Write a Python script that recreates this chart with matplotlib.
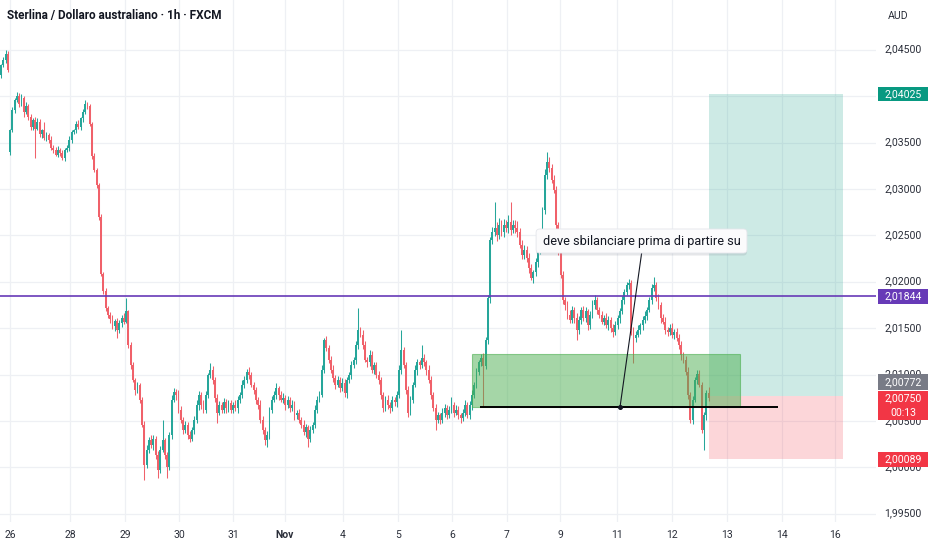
import matplotlib
matplotlib.use("Agg")
import matplotlib.pyplot as plt
import matplotlib.transforms as mtransforms
from matplotlib.patches import Rectangle, FancyBboxPatch

plt.rcParams['font.family'] = ['Roboto', 'DejaVu Sans']

# ---------------- data ----------------
symbol_title = "Sterlina / Dollaro australiano · 1h · FXCM"
currency = "AUD"

# hourly closes, in pips above 2.00000
close_pips = [
    433, 439, 445, 428, 363, 385, 396, 400, 392, 398, 383, 389, 377, 367, 374, 365, 372, 359, 363, 355, 358, 353, 344, 342,
    337, 342, 339, 333, 342, 344, 353, 361, 363, 370, 367, 376, 383, 392, 389, 370, 335, 320, 304, 270, 208, 190, 172, 164,
    160, 152, 158, 148, 155, 161, 157, 168, 132, 110, 94, 83, 89, 73, 46, 2, 19, 29, 24, 31, 13, -3, 19, 29,
    13, 0, 35, 73, 81, 78, 62, 51, 40, 46, 35, 31, 40, 51, 67, 78, 67, 62, 78, 99, 105, 94, 75, 59,
    67, 62, 70, 64, 69, 62, 67, 64, 73, 78, 89, 94, 103, 99, 89, 83, 73, 67, 51, 40, 29, 35, 62, 73,
    78, 85, 78, 73, 75, 67, 73, 64, 67, 56, 59, 51, 46, 38, 43, 31, 40, 46, 62, 73, 78, 105, 137, 129,
    116, 105, 96, 89, 94, 85, 91, 80, 94, 99, 110, 116, 132, 148, 143, 132, 116, 113, 121, 105, 110, 99, 94, 78,
    64, 73, 67, 64, 73, 70, 78, 105, 126, 110, 83, 59, 73, 89, 105, 113, 110, 118, 113, 105, 94, 78, 64, 51,
    56, 51, 59, 64, 56, 62, 67, 59, 62, 56, 53, 59, 67, 56, 67, 78, 89, 103, 113, 118, 109, 137, 182, 245,
    254, 258, 250, 261, 254, 261, 258, 264, 256, 261, 258, 254, 240, 229, 234, 226, 215, 204, 210, 221, 234, 245, 277, 315,
    329, 323, 310, 299, 261, 234, 207, 180, 175, 164, 159, 170, 161, 148, 159, 170, 161, 168, 153, 164, 175, 180, 170, 164,
    157, 161, 153, 159, 150, 146, 153, 161, 168, 180, 189, 196, 199, 148, 139, 143, 148, 153, 159, 163, 170, 180, 193, 196,
    182, 175, 161, 157, 148, 146, 150, 143, 146, 139, 132, 121, 116, 103, 78, 51, 73, 94, 101, 89, 40, 56, 80, 75,
]
upper_wick_pips = [
    2, 3, 5, 4, 2, 3, 2, 4, 3, 4, 2, 5, 3, 4, 2, 3, 4, 3, 2, 9, 3, 2, 4, 3,
    3, 4, 2, 3, 2, 3, 4, 3, 2, 3, 4, 2, 3, 4, 2, 3, 2, 4, 3, 2, 3, 2, 3, 2,
    3, 4, 2, 3, 4, 3, 5, 14, 2, 3, 4, 2, 3, 2, 3, 4, 5, 4, 6, 4, 3, 5, 4, 22,
    3, 4, 3, 5, 4, 3, 5, 4, 3, 4, 3, 4, 3, 4, 5, 4, 3, 6, 4, 3, 7, 4, 3, 4,
    4, 3, 5, 4, 3, 4, 3, 5, 4, 3, 5, 4, 3, 5, 4, 3, 4, 3, 5, 4, 3, 4, 3, 4,
    4, 6, 3, 4, 5, 3, 4, 3, 5, 4, 3, 4, 3, 5, 4, 3, 4, 3, 5, 4, 4, 5, 2, 4,
    3, 4, 5, 3, 4, 3, 5, 4, 3, 4, 5, 3, 4, 24, 3, 5, 4, 3, 5, 4, 3, 4, 5, 3,
    3, 4, 5, 3, 4, 3, 4, 5, 22, 4, 3, 5, 4, 3, 5, 4, 3, 14, 4, 3, 5, 4, 3, 4,
    4, 3, 5, 4, 3, 4, 9, 3, 5, 4, 3, 4, 5, 3, 4, 5, 3, 4, 3, 4, 5, 3, 4, 3,
    5, 28, 6, 8, 5, 7, 6, 8, 22, 6, 5, 7, 4, 5, 6, 4, 5, 4, 3, 5, 4, 5, 4, 6,
    11, 5, 4, 5, 4, 3, 4, 5, 3, 4, 5, 4, 3, 5, 4, 3, 4, 5, 3, 4, 5, 6, 4, 3,
    4, 3, 5, 4, 3, 4, 5, 3, 4, 5, 3, 4, 4, 3, 3, 4, 5, 3, 4, 5, 3, 4, 5, 9,
    4, 5, 3, 4, 5, 3, 4, 5, 3, 4, 5, 4, 3, 4, 5, 3, 4, 3, 4, 4, 3, 4, 3, 6,
]
lower_wick_pips = [
    3, 2, 3, 2, 3, 2, 3, 2, 4, 3, 5, 2, 3, 4, 3, 32, 2, 3, 4, 2, 3, 4, 2, 3,
    2, 3, 4, 2, 3, 2, 3, 4, 2, 3, 2, 3, 4, 2, 3, 2, 3, 2, 3, 4, 2, 3, 4, 3,
    4, 3, 5, 9, 3, 4, 3, 2, 3, 4, 2, 5, 3, 4, 3, 16, 3, 4, 3, 5, 4, 9, 3, 2,
    4, 12, 3, 4, 3, 5, 4, 3, 4, 3, 5, 4, 3, 4, 3, 5, 4, 3, 4, 3, 3, 4, 5, 11,
    3, 4, 3, 5, 4, 3, 4, 3, 5, 4, 3, 4, 3, 4, 3, 4, 5, 4, 3, 4, 5, 7, 4, 3,
    3, 4, 5, 3, 4, 5, 3, 4, 3, 5, 4, 3, 4, 3, 5, 9, 4, 3, 4, 3, 3, 2, 3, 4,
    4, 3, 4, 5, 3, 4, 3, 4, 5, 3, 4, 3, 5, 4, 3, 4, 3, 5, 4, 3, 4, 3, 4, 4,
    4, 3, 4, 5, 3, 4, 5, 3, 4, 3, 4, 5, 3, 4, 3, 5, 4, 3, 4, 5, 3, 4, 3, 11,
    3, 4, 3, 5, 4, 3, 4, 5, 3, 4, 5, 3, 4, 3, 4, 5, 3, 4, 3, 4, 44, 3, 4, 5,
    4, 5, 6, 4, 5, 6, 4, 5, 6, 4, 5, 6, 4, 5, 4, 5, 6, 2, 5, 4, 5, 4, 5, 4,
    4, 5, 4, 3, 4, 5, 3, 4, 5, 4, 3, 4, 5, 11, 4, 5, 3, 4, 5, 4, 3, 4, 5, 3,
    3, 4, 3, 5, 4, 6, 3, 4, 5, 3, 4, 3, 4, 5, 27, 4, 3, 4, 5, 3, 4, 3, 4, 3,
    3, 4, 5, 3, 4, 5, 3, 4, 5, 3, 4, 5, 4, 3, 4, 3, 4, 3, 4, 3, 3, 21, 5, 4,
]
first_open_pips = 423
gap_open_pips = {4: 340}

day_labels = ["26", "28", "29", "30", "31", "Nov", "4", "5", "6", "7", "9", "11", "12", "13", "14", "16"]
day_label_bars = [4.0, 30.3, 54.5, 78.2, 102.0, 124.8, 150.3, 174.5, 198.2, 222.4, 245.7, 270.8, 295.0, 319.1, 343.3, 366.6]

price_ticks = [1.995, 2.000, 2.005, 2.010, 2.015, 2.020, 2.025, 2.030, 2.035, 2.040, 2.045]
# 2,04000 is fully covered by the target tag in the reference
price_tick_labels_shown = [1.995, 2.000, 2.005, 2.010, 2.015, 2.020, 2.025, 2.030, 2.035, 2.045]

hline_price = 2.01844
entry_price = 2.00772
target_price = 2.04025
stop_price = 2.00089
last_price = 2.00750
countdown = "00:13"

zone_prices = (2.00650, 2.01221)
zone_bars = (206.9, 324.8)
level_line_price = 2.00650
level_line_bars = (210.5, 341.5)
note_text = "deve sbilanciare prima di partire su"
note_box_bars = (235.2, 327.9)
note_box_prices = (2.02309, 2.02568)
note_anchor = (272.1, 2.00650)
note_tail = (281.6, 2.02309)
position_bars = (311.2, 370.1)

# ---------------- layout / style ----------------
W, H = 932, 550
PLOT_RIGHT, PLOT_BOTTOM = 876, 522
PRICE_TOP, PRICE_BOTTOM = 2.050356, 1.994106
BAR_PX = 2.275
PPX = PLOT_BOTTOM / (PRICE_TOP - PRICE_BOTTOM)

GREEN = '#26a69a'
RED = '#f0616a'
GRID = '#eef0f4'
TEXT = '#131722'
AXTEXT = '#2a2e39'

fig = plt.figure(figsize=(W / 100, H / 100), dpi=100)
fig.patch.set_facecolor('white')
ax = fig.add_axes([0, 1 - PLOT_BOTTOM / H, PLOT_RIGHT / W, PLOT_BOTTOM / H])
ax.set_xlim(-1 / BAR_PX, (PLOT_RIGHT - 1) / BAR_PX)
ax.set_ylim(PRICE_BOTTOM, PRICE_TOP)
ax.axis('off')

# grid
for b in day_label_bars:
    ax.axvline(b, color=GRID, lw=0.9, zorder=0)
for p in price_ticks:
    ax.axhline(p, color=GRID, lw=0.9, zorder=0)

# candles
n = len(close_pips)
open_pips = [first_open_pips] + close_pips[:-1]
for k, v in gap_open_pips.items():
    open_pips[k] = v
O = [2.0 + v / 1e4 for v in open_pips]
C = [2.0 + v / 1e4 for v in close_pips]
HI = [max(o, c) + u / 1e4 for o, c, u in zip(O, C, upper_wick_pips)]
LO = [min(o, c) - l / 1e4 for o, c, l in zip(O, C, lower_wick_pips)]
cols = [GREEN if c >= o else RED for o, c in zip(O, C)]
xs = list(range(n))
ax.vlines(xs, LO, HI, colors=cols, linewidth=0.75, zorder=2)
ax.bar(xs, [max(abs(c - o), 0.00005) for o, c in zip(O, C)],
       bottom=[min(o, c) for o, c in zip(O, C)], width=0.82, color=cols,
       linewidth=0, zorder=2)

# position tool
ax.add_patch(Rectangle((position_bars[0], entry_price), position_bars[1] - position_bars[0],
                       target_price - entry_price, facecolor=(8/255, 153/255, 129/255, 0.2),
                       edgecolor='none', zorder=1))
ax.add_patch(Rectangle((position_bars[0], stop_price), position_bars[1] - position_bars[0],
                       entry_price - stop_price, facecolor=(242/255, 54/255, 69/255, 0.2),
                       edgecolor='none', zorder=1))

# green zone
ax.add_patch(Rectangle((zone_bars[0], zone_prices[0]), zone_bars[1] - zone_bars[0],
                       zone_prices[1] - zone_prices[0], facecolor=(76/255, 175/255, 80/255, 0.5),
                       edgecolor=(76/255, 175/255, 80/255, 0.6), linewidth=0.8, zorder=3))

# horizontal level (purple)
ax.axhline(hline_price, color='#673ab7', lw=1.2, zorder=4)

# black level line
ax.plot(level_line_bars, [level_line_price, level_line_price], color='black', lw=1.4, zorder=5,
        solid_capstyle='butt')

# callout
ax.plot([note_anchor[0], note_tail[0]], [note_anchor[1], note_tail[1]], color=TEXT, lw=0.8, zorder=5)
ax.plot([note_anchor[0]], [note_anchor[1]], 'o', ms=2.6, color=TEXT, zorder=6)
aspect = BAR_PX / PPX
shadow_dy = 2.5 / PPX
ax.add_patch(FancyBboxPatch((note_box_bars[0], note_box_prices[0] - shadow_dy),
                            note_box_bars[1] - note_box_bars[0], note_box_prices[1] - note_box_prices[0],
                            boxstyle="round,pad=0,rounding_size=1.6", mutation_aspect=aspect,
                            facecolor=(0.55, 0.57, 0.62, 0.22), edgecolor='none', zorder=6))
ax.add_patch(FancyBboxPatch((note_box_bars[0], note_box_prices[0]),
                            note_box_bars[1] - note_box_bars[0], note_box_prices[1] - note_box_prices[0],
                            boxstyle="round,pad=0,rounding_size=1.6", mutation_aspect=aspect,
                            facecolor='#fbfbfc', edgecolor='#e4e6eb', linewidth=0.6, zorder=7))
note = ax.text((note_box_bars[0] + note_box_bars[1]) / 2, (note_box_prices[0] + note_box_prices[1]) / 2,
               note_text, ha='center', va='center', color=TEXT, fontsize=9, zorder=8)

# title
title = fig.text(7 / W, 1 - 16 / H, symbol_title, ha='left', va='center', color=TEXT,
                 fontsize=9, fontweight='bold')

# fit texts to target pixel widths
renderer = fig.canvas.get_renderer()
for t, target in ((title, 215), (note, 199)):
    w = t.get_window_extent(renderer).width
    t.set_fontsize(t.get_fontsize() * target / w)

# time axis labels
blend = mtransforms.blended_transform_factory(ax.transData, fig.transFigure)
for b, lbl in zip(day_label_bars, day_labels):
    ax.text(b, 1 - 535 / H, lbl, transform=blend, ha='center', va='center', fontsize=7.5,
            color=AXTEXT, fontweight='bold' if lbl == 'Nov' else 'normal', clip_on=False)

# price scale
pax = fig.add_axes([PLOT_RIGHT / W, 1 - PLOT_BOTTOM / H, (W - PLOT_RIGHT) / W, PLOT_BOTTOM / H])
pax.set_xlim(PLOT_RIGHT, W)
pax.set_ylim(PLOT_BOTTOM, 0)
pax.axis('off')


def ypx(price):
    return (PRICE_TOP - price) * PPX


def fmt(p):
    return f"{p:.5f}".replace('.', ',')


XC = 903
for p in price_tick_labels_shown:
    pax.text(XC, ypx(p), fmt(p), ha='center', va='center', fontsize=7.6, color=AXTEXT, zorder=1)
pax.text(XC - 5, 16, currency, ha='center', va='center', fontsize=7.6, color=AXTEXT)

BX0, BW = 877.7, 50


def tag(top, bottom, color, lines):
    pax.add_patch(Rectangle((BX0, top), BW, bottom - top, facecolor=color, edgecolor='none', zorder=2))
    hh = (bottom - top) / len(lines)
    for i, s in enumerate(lines):
        pax.text(XC, top + hh * (i + 0.5), s, ha='center', va='center', fontsize=7.6,
                 color='white', zorder=3)


y = ypx(target_price)
tag(y - 7, y + 7, '#089981', [fmt(target_price)])
y = ypx(hline_price)
tag(y - 7.5, y + 7.5, '#673ab7', [fmt(hline_price)])
y = ypx(entry_price)
tag(y - 21.5, y - 5.7, '#787b86', [fmt(entry_price)])
y = ypx(last_price)
tag(y - 6.7, y + 22.3, '#f23645', [fmt(last_price), countdown])
y = ypx(stop_price)
tag(y - 7.3, y + 7.7, '#f23645', [fmt(stop_price)])

fig.savefig('out.png', dpi=100, facecolor='white')
